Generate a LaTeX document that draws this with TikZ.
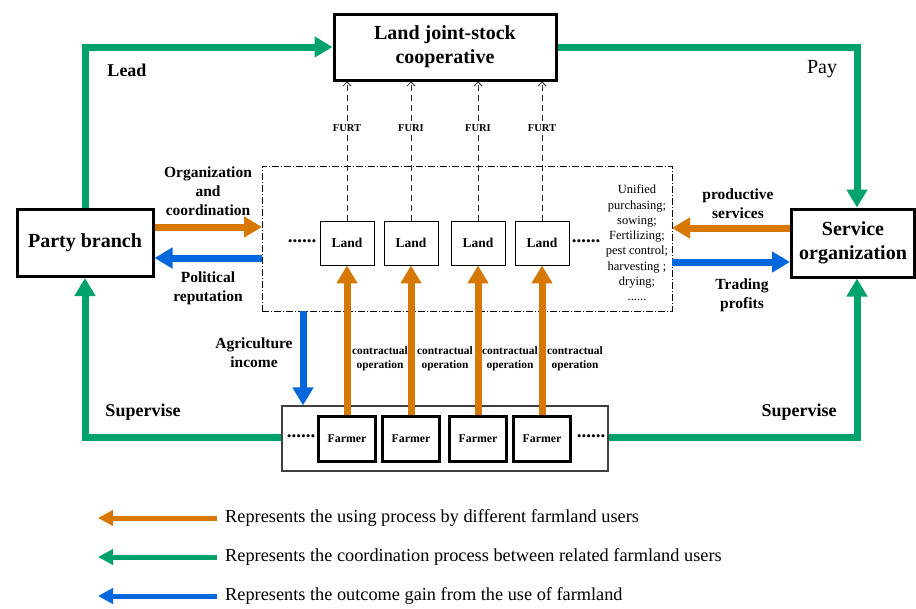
\documentclass[tikz,border=0pt]{standalone}
\usepackage{fontspec}
\setmainfont{Liberation Serif}
\usetikzlibrary{arrows.meta}
\definecolor{corange}{RGB}{215,120,4}
\definecolor{cgreen}{RGB}{0,162,108}
\definecolor{cblue}{RGB}{0,104,220}
\tikzset{
  bigbox/.style={draw, line width=3pt, align=center, inner sep=0pt, font=\fontsize{20}{24}\selectfont\bfseries},
  landbox/.style={draw, line width=0.9pt, minimum width=54pt, minimum height=44pt, inner sep=0pt, font=\fontsize{13.5}{15}\selectfont\bfseries},
  farmerbox/.style={draw, line width=3pt, minimum width=57pt, minimum height=45pt, inner sep=0pt, font=\fontsize{11.8}{13}\selectfont\bfseries},
  lbl/.style={inner sep=0pt, align=center, font=\fontsize{15.5}{19}\selectfont\bfseries},
  biglbl/.style={inner sep=0pt, align=center, font=\fontsize{18}{21}\selectfont\bfseries},
  smalllbl/.style={inner sep=0pt, align=center, font=\fontsize{11.4}{14}\selectfont\bfseries},
  furtlbl/.style={inner sep=1.5pt, fill=white, font=\fontsize{10.5}{12}\selectfont\bfseries},
  dots/.style={inner sep=0pt, font=\fontsize{19}{20}\selectfont\bfseries},
  legtext/.style={inner sep=0pt, anchor=west, font=\fontsize{18.3}{20}\selectfont},
  tipbig/.style={-{Triangle[width=20pt,length=18pt]}},
  tipleg/.style={-{Triangle[width=15pt,length=15pt]}},
  garrow/.style={draw=cgreen, line width=7pt},
  oarrow/.style={draw=corange, line width=7pt},
  barrow/.style={draw=cblue, line width=7pt},
  furtline/.style={draw=black!85, line width=0.8pt, dash pattern=on 6pt off 4pt, -{Straight Barb[length=4pt,width=8pt,line width=0.8pt]}},
}
\begin{document}
\begin{tikzpicture}[x=1pt,y=-1pt]
\useasboundingbox (0,0) rectangle (916,608);
\fill[white] (0,0) rectangle (916,608);

% main boxes
\node[bigbox, minimum width=222pt, minimum height=66pt] (coop) at (445,47) {Land joint-stock\\cooperative};
\node[bigbox, minimum width=136pt, minimum height=67pt] (party) at (85,243) {Party branch};
\node[bigbox, minimum width=123pt, minimum height=68pt] (service) at (853,243) {Service\\organization};

% middle dash-dot box
\node[draw, line width=0.9pt, dash pattern=on 7pt off 2pt on 1pt off 2pt, minimum width=410pt, minimum height=145pt, inner sep=0pt] (mid) at (467,238.5) {};

% farmer outer box
\node[draw=black!75, line width=1.2pt, minimum width=326pt, minimum height=65pt, inner sep=0pt] (fbox) at (445,438.5) {};

% land boxes
\node[landbox] (l1) at (347,243) {Land};
\node[landbox] (l2) at (411,243) {Land};
\node[landbox] (l3) at (478,243) {Land};
\node[landbox] (l4) at (542,243) {Land};
\node[dots] (ld1) at (302,241) {......};
\node[dots] (ld2) at (586,241) {......};

% farmer boxes
\node[farmerbox] (f1) at (347,438.5) {Farmer};
\node[farmerbox] (f2) at (411,438.5) {Farmer};
\node[farmerbox] (f3) at (478,438.5) {Farmer};
\node[farmerbox] (f4) at (542,438.5) {Farmer};
\node[dots] (fd1) at (301,436) {......};
\node[dots] (fd2) at (591,436) {......};

% service list
\node[inner sep=0pt, align=center, font=\fontsize{12.5}{15.3}\selectfont] (svc) at (637,243)
  {Unified\\purchasing;\\sowing;\\Fertilizing;\\pest control;\\harvesting ;\\drying;\\......};

% corner coordinates for green lines
\coordinate (cTL) at (85,47);
\coordinate (cTR) at (857,47);
\coordinate (cBL) at (85,437);
\coordinate (cBR) at (857,437);

% green paths
\draw[garrow, tipbig] (party.north) -- (cTL) -- (coop.west);
\draw[garrow, tipbig] (coop.east) -- (cTR) -- (cTR |- service.north);
\draw[garrow, tipbig] (fbox.west |- cBL) -- (cBL) -- (party.south);
\draw[garrow, tipbig] (fbox.east |- cBR) -- (cBR) -- (cBR |- service.south);

% dashed FURT arrows
\draw[furtline] (l1.north) -- (l1.north |- coop.south) node[furtlbl, pos=0.667] {FURT};
\draw[furtline] (l2.north) -- (l2.north |- coop.south) node[furtlbl, pos=0.667] {FURI};
\draw[furtline] (l3.north) -- (l3.north |- coop.south) node[furtlbl, pos=0.667] {FURI};
\draw[furtline] (l4.north) -- (l4.north |- coop.south) node[furtlbl, pos=0.667] {FURT};

% orange farmer -> land arrows
\draw[oarrow, tipbig] (f1.north) -- (l1.south);
\draw[oarrow, tipbig] (f2.north) -- (l2.south);
\draw[oarrow, tipbig] (f3.north) -- (l3.south);
\draw[oarrow, tipbig] (f4.north) -- (l4.south);
\node[smalllbl] (c1) at (380,359) {contractual\\operation};
\node[smalllbl] (c2) at (445,359) {contractual\\operation};
\node[smalllbl] (c3) at (510,359) {contractual\\operation};
\node[smalllbl] (c4) at (575,359) {contractual\\operation};

% left side arrows
\coordinate (o1) at (262,227);
\coordinate (b1) at (262,258);
\draw[oarrow, tipbig] (party.east |- o1) -- (o1);
\draw[barrow, tipbig] (b1) -- (party.east |- b1);
\node[lbl] (orgl) at (208,191) {Organization\\and\\coordination};
\node[lbl] (poll) at (208,288) {Political\\reputation};

% right side arrows
\coordinate (o2) at (672,228);
\coordinate (b2) at (672,262);
\draw[oarrow, tipbig] (service.west |- o2) -- (o2);
\draw[barrow, tipbig] (b2) -- (service.west |- b2);
\node[lbl] (prodl) at (738,204) {productive\\services};
\node[lbl] (tradl) at (742,295) {Trading\\profits};

% agriculture income
\coordinate (a1) at (303,311);
\draw[barrow, tipbig] (a1) -- (a1 |- fbox.north);
\node[lbl] (agril) at (254,353) {Agriculture\\income};

% corner labels
\node[biglbl] (lead) at (127,70) {Lead};
\node[inner sep=0pt, font=\fontsize{20}{22}\selectfont] (pay) at (822,69) {Pay};
\node[biglbl] (sup1) at (143,412) {Supervise};
\node[biglbl] (sup2) at (799,412) {Supervise};

% legend
\coordinate (g1s) at (217,518);
\coordinate (g1e) at (98,518);
\coordinate (g2s) at (217,557);
\coordinate (g2e) at (98,557);
\coordinate (g3s) at (217,596);
\coordinate (g3e) at (98,596);
\draw[draw=corange, line width=5pt, tipleg] (g1s) -- (g1e);
\draw[draw=cgreen, line width=5pt, tipleg] (g2s) -- (g2e);
\draw[draw=cblue, line width=5pt, tipleg] (g3s) -- (g3e);
\node[legtext] (t1) at (225,518) {Represents the using process by different farmland users};
\node[legtext] (t2) at (225,557) {Represents the coordination process between related farmland users};
\node[legtext] (t3) at (225,596) {Represents the outcome gain from the use of farmland};
\end{tikzpicture}
\end{document}
